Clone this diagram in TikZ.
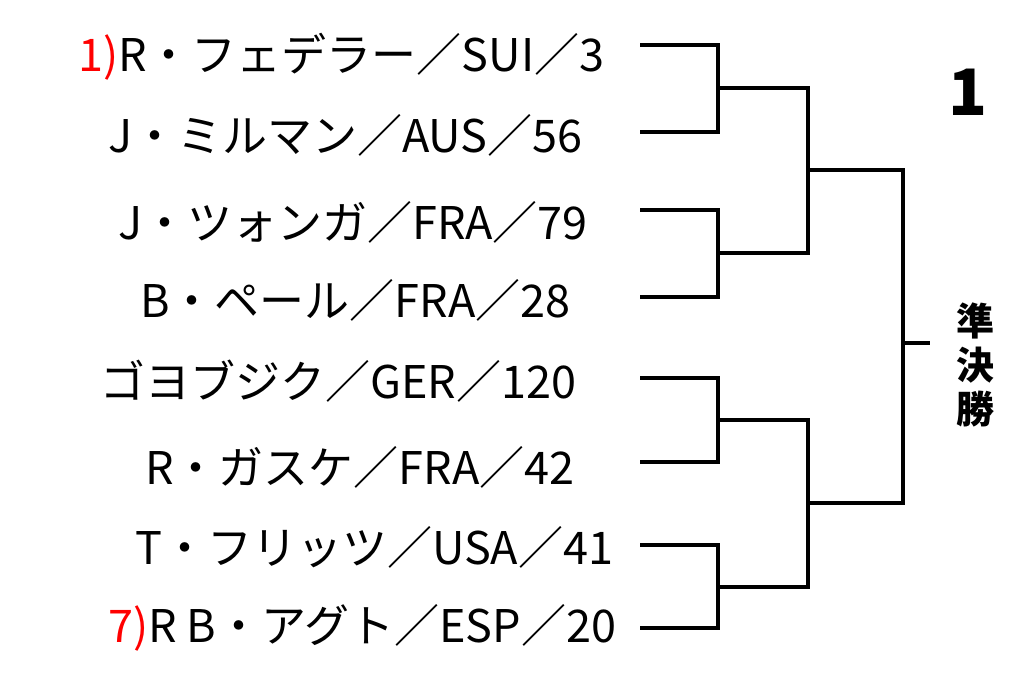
\documentclass[tikz,border=0pt]{standalone}
\usepackage{fontspec}
\setmainfont{Noto Sans CJK JP}
\begin{document}
\begin{tikzpicture}[x=1pt,y=-1pt,
  lab/.style={anchor=west,inner sep=0pt,font=\fontsize{45}{50}\selectfont},
  br/.style={line width=4pt}]
\useasboundingbox (0,0) rectangle (1024,691);
\node[lab] (p1) at (78,57) {\textcolor{red}{1)}R・フェデラー／SUI／3};
\node[lab] (p2) at (108,135) {J・ミルマン／AUS／56};
\node[lab] (p3) at (118,222) {J・ツォンガ／FRA／79};
\node[lab] (p4) at (140,300) {B・ペール／FRA／28};
\node[lab] (p5) at (100,381) {ゴヨブジク／GER／120};
\node[lab] (p6) at (145,467) {R・ガスケ／FRA／42};
\node[lab] (p7) at (135,547) {T・フリッツ／USA／41};
\node[lab] (p8) at (108,628) {\textcolor{red}{7)}R B・アグト／ESP／20};
\coordinate (a1) at (640,45); \coordinate (a2) at (640,132);
\coordinate (a3) at (640,210); \coordinate (a4) at (640,297);
\coordinate (a5) at (640,378); \coordinate (a6) at (640,462);
\coordinate (a7) at (640,545); \coordinate (a8) at (640,628);
\draw[br] (a1) -| (718,132) -- (a2);
\draw[br] (a3) -| (718,297) -- (a4);
\draw[br] (a5) -| (718,462) -- (a6);
\draw[br] (a7) -| (718,628) -- (a8);
\draw[br] (718,88) -| (808,253) -- (718,253);
\draw[br] (718,420) -| (808,587) -- (718,587);
\draw[br] (808,170) -| (903,503) -- (808,503);
\coordinate (f) at (930,343);
\draw[br] (903,343) -- (f);
\node[font=\fontsize{38}{44}\selectfont\bfseries,align=center,inner sep=0pt] (sf) at (975,365) {準\\決\\勝};
\node[font=\fontsize{64}{64}\selectfont\bfseries,inner sep=0pt] (n1) at (968,92) {1};
\end{tikzpicture}
\end{document}
